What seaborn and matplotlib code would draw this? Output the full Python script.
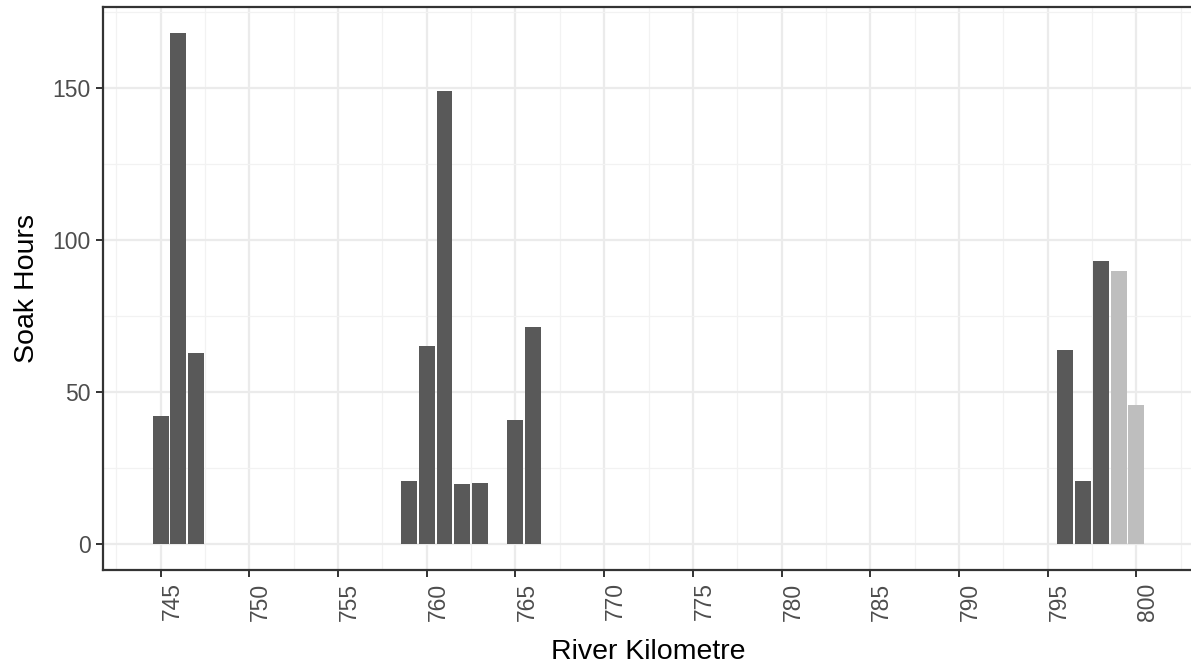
import matplotlib
matplotlib.use("Agg")
import matplotlib.pyplot as plt
import seaborn as sns
import pandas as pd
import numpy as np

# Data
river_km = [745, 746, 747, 759, 760, 761, 762, 763, 765, 766, 796, 797, 798, 799, 800]
soak_hours = [42.2, 168.2, 62.9, 20.9, 65.2, 149.1, 19.7, 20.3, 40.9, 71.5, 64.0, 20.8, 93.2, 90.0, 45.8]
group = ["a", "a", "a", "a", "a", "a", "a", "a", "a", "a", "a", "a", "a", "b", "b"]
x_ticks = [745, 750, 755, 760, 765, 770, 775, 780, 785, 790, 795, 800]
y_ticks = [0, 50, 100, 150]

df = pd.DataFrame({"km": river_km, "hours": soak_hours, "group": group})

sns.set_theme(style="white")
plt.rcParams["font.family"] = ["Liberation Sans", "DejaVu Sans"]

fig = plt.figure(figsize=(11.91, 6.63), dpi=100)
ax = fig.add_axes([103 / 1191, 1 - 570 / 663, (1194 - 103) / 1191, (570 - 7) / 663])

sns.barplot(data=df, x="km", y="hours", hue="group", orient="x",
            palette={"a": "#595959", "b": "#BEBEBE"}, native_scale=True,
            width=0.9, dodge=False, legend=False, linewidth=0, ax=ax, zorder=3)

ax.set_xlim(741.75, 803.25)
ax.set_ylim(-8.41, 176.6)

ax.set_xticks(x_ticks)
ax.set_xticks([t - 2.5 for t in x_ticks] + [x_ticks[-1] + 2.5], minor=True)
ax.set_yticks(y_ticks)
ax.set_yticks([25, 75, 125, 175], minor=True)
ax.set_xticklabels([str(t) for t in x_ticks], rotation=90, ha="left")
ax.set_yticklabels([str(t) for t in y_ticks])

ax.grid(True, which="major", color="#EBEBEB", linewidth=1.6, zorder=0)
ax.grid(True, which="minor", color="#F2F2F2", linewidth=0.9, zorder=0)
ax.set_axisbelow(True)

for side in ["left", "bottom", "top"]:
    ax.spines[side].set_color("#333333")
    ax.spines[side].set_linewidth(1.6)
    ax.spines[side].set_visible(True)
ax.spines["right"].set_visible(False)

ax.tick_params(axis="both", which="major", length=5, width=1.4, color="#333333",
               labelcolor="#4D4D4D", labelsize=16.5, pad=4, bottom=True, left=True)
ax.tick_params(axis="both", which="minor", length=0)

ax.set_xlabel("River Kilometre", fontsize=20.5, color="black", labelpad=13)
ax.set_ylabel("Soak Hours", fontsize=20.5, color="black", labelpad=9)

fig.savefig("out.png", dpi=100)
